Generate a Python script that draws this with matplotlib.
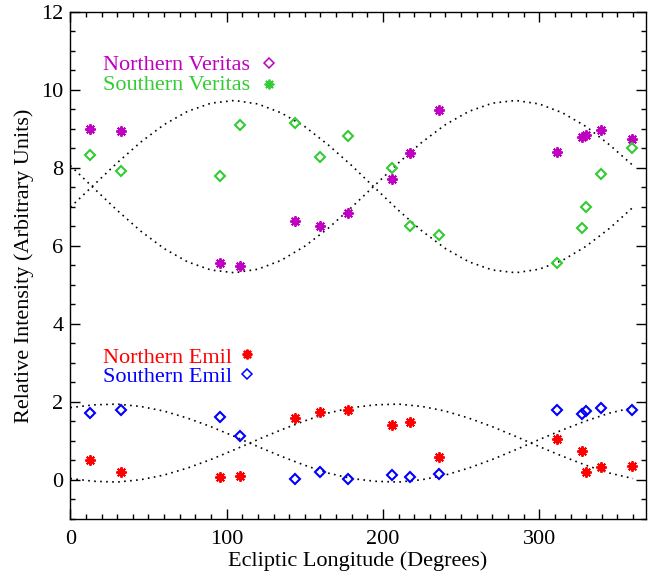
import numpy as np
import matplotlib
matplotlib.use("Agg")
import matplotlib.pyplot as plt
from matplotlib.ticker import MultipleLocator

# ── Datos ─────────────────────────────────────────────────────────────────
lon = [12.6, 32.4, 95.8, 108.6, 143.6, 159.7, 177.7, 205.6, 217.6, 235.7,
       311.6, 327.5, 329.7, 339.8, 359.6]

north_veritas = [9.00, 8.94, 5.55, 5.49, 6.65, 6.52, 6.84, 7.72, 8.39, 9.49,
                 8.40, 8.78, 8.85, 8.97, 8.73]
south_veritas = [8.33, 7.92, 7.80, 9.09, 9.16, 8.28, 8.82, 7.99, 6.52, 6.27,
                 5.56, 6.45, 7.00, 7.85, 8.52]
north_emil = [0.51, 0.21, 0.06, 0.10, 1.59, 1.73, 1.78, 1.41, 1.48, 0.57,
              1.05, 0.73, 0.21, 0.32, 0.36]
south_emil = [1.71, 1.78, 1.62, 1.13, 0.01, 0.21, 0.01, 0.12, 0.06, 0.15,
              1.78, 1.69, 1.76, 1.85, 1.80]

# curvas punteadas (ajustes), leídas cada 15 grados
fit_lon = list(range(0, 361, 15))
fit_veritas_a = [6.99, 7.56, 8.13, 8.66, 9.11, 9.45, 9.66, 9.73, 9.64, 9.41,
                 9.06, 8.59, 8.06, 7.48, 6.91, 6.38, 5.93, 5.59, 5.38, 5.31,
                 5.40, 5.63, 5.99, 6.45, 6.99]
fit_veritas_b = [8.06, 7.48, 6.91, 6.38, 5.93, 5.59, 5.38, 5.31, 5.40, 5.63,
                 5.99, 6.45, 6.99, 7.56, 8.13, 8.66, 9.11, 9.45, 9.66, 9.73,
                 9.64, 9.41, 9.06, 8.59, 8.06]
fit_emil_a = [1.85, 1.92, 1.94, 1.88, 1.76, 1.58, 1.36, 1.11, 0.85, 0.60,
              0.37, 0.17, 0.03, -0.04, -0.06, 0.00, 0.12, 0.30, 0.52, 0.77,
              1.03, 1.28, 1.51, 1.71, 1.85]
fit_emil_b = [0.03, -0.04, -0.06, 0.00, 0.12, 0.30, 0.52, 0.77, 1.03, 1.28,
              1.51, 1.71, 1.85, 1.92, 1.94, 1.88, 1.76, 1.58, 1.36, 1.11,
              0.85, 0.60, 0.37, 0.17, 0.03]

MAGENTA = "#c000c0"
GREEN = "#33cc33"
RED = "#ff0000"
BLUE = "#0000ff"

STAR = (8, 2, 0)
FS = 16

plt.rcParams["font.family"] = ["Liberation Serif", "DejaVu Serif"]
plt.rcParams["font.size"] = FS

fig = plt.figure(figsize=(6.48, 5.78), dpi=100)
ax = fig.add_axes([0.1085, 0.1026, 0.8877, 0.8767])

dot = (0, (1, 2.6))
for curve in (fit_veritas_a, fit_veritas_b, fit_emil_a, fit_emil_b):
    ax.plot(fit_lon, curve, color="black", linestyle=dot, linewidth=1.2)

star_kw = dict(linestyle="none", marker=STAR, markersize=7.5, markeredgewidth=1.4)
diam_kw = dict(linestyle="none", marker="D", markersize=5.4,
               markerfacecolor="none", markeredgewidth=1.5)

ax.plot(lon, north_veritas, color=MAGENTA, markeredgecolor=MAGENTA, **star_kw)
ax.plot(lon, south_veritas, markeredgecolor=GREEN, **diam_kw)
ax.plot(lon, north_emil, color=RED, markeredgecolor=RED, **star_kw)
ax.plot(lon, south_emil, markeredgecolor=BLUE, **diam_kw)

# leyendas escritas a mano (como en el original)
ax.text(0.056, 0.8855, "Northern Veritas", color=MAGENTA, transform=ax.transAxes)
ax.plot([0.346], [0.900], transform=ax.transAxes, clip_on=False,
        marker="D", markersize=5.0, markerfacecolor="none",
        markeredgecolor=MAGENTA, markeredgewidth=1.1)
ax.text(0.056, 0.846, "Southern Veritas", color=GREEN, transform=ax.transAxes)
ax.plot([0.345], [0.857], transform=ax.transAxes, clip_on=False,
        marker=STAR, markersize=7, markeredgecolor=GREEN, markeredgewidth=1.3)

ax.text(0.056, 0.308, "Northern Emil", color=RED, transform=ax.transAxes)
ax.plot([0.308], [0.326], transform=ax.transAxes, clip_on=False,
        marker=STAR, markersize=7, markeredgecolor=RED, markeredgewidth=1.6)
ax.text(0.056, 0.269, "Southern Emil", color=BLUE, transform=ax.transAxes)
ax.plot([0.308], [0.285], transform=ax.transAxes, clip_on=False,
        marker="D", markersize=5.0, markerfacecolor="none",
        markeredgecolor=BLUE, markeredgewidth=1.1)

ax.set_xlim(0, 368)
ax.set_ylim(-1, 12)
ax.xaxis.set_major_locator(MultipleLocator(100))
ax.xaxis.set_minor_locator(MultipleLocator(10))
ax.yaxis.set_major_locator(MultipleLocator(2))
ax.yaxis.set_minor_locator(MultipleLocator(0.5))
ax.tick_params(which="both", direction="in", top=True, right=True,
               width=1.0, labelsize=FS)
ax.tick_params(which="major", length=7.5)
ax.tick_params(which="minor", length=3.8)
ax.tick_params(axis="x", pad=8)
ax.tick_params(axis="y", pad=5)
for sp in ax.spines.values():
    sp.set_linewidth(1.0)

ax.set_xlabel("Ecliptic Longitude (Degrees)", fontsize=FS, labelpad=2)
ax.set_ylabel("Relative Intensity (Arbitrary Units)", fontsize=FS, labelpad=5)

fig.savefig("out.png", dpi=100)
